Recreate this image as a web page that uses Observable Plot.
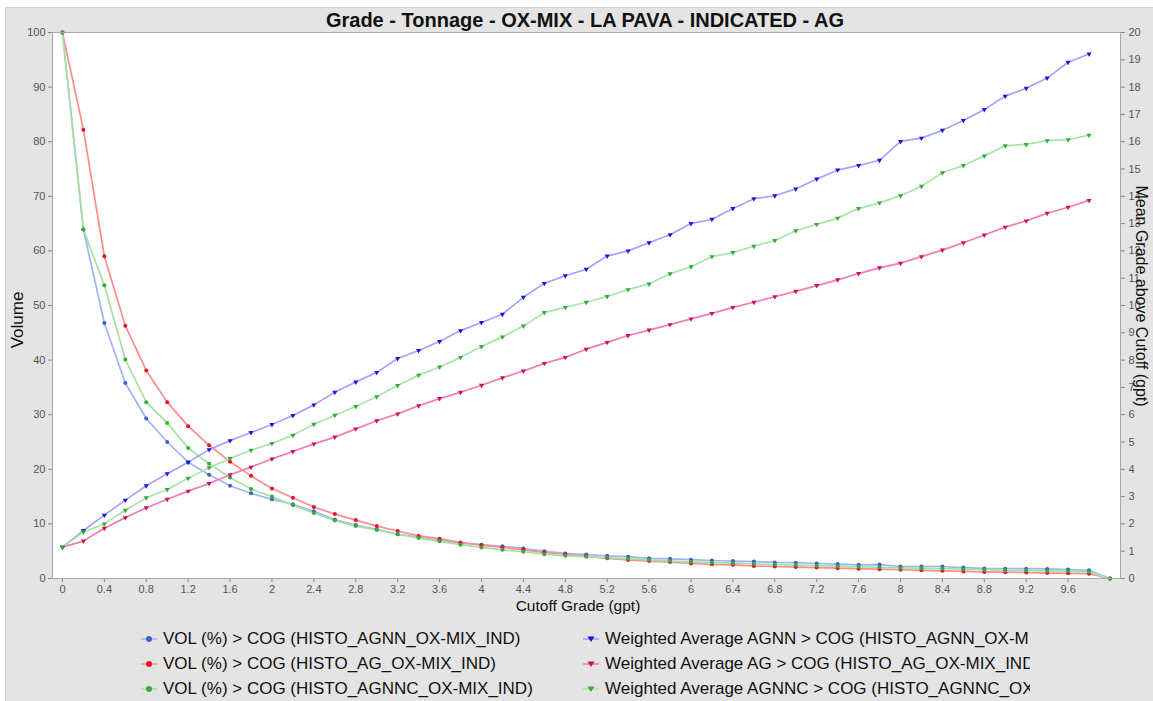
<!DOCTYPE html>
<html><head><meta charset="utf-8">
<script src="https://cdn.jsdelivr.net/npm/d3@7"></script>
<script src="https://cdn.jsdelivr.net/npm/@observablehq/plot@0.6"></script>
<style>
html,body{margin:0;padding:0;background:#fff;}
#wrap{position:relative;width:1153px;height:701px;overflow:hidden;font-family:"Liberation Sans",Arial,sans-serif;}
#bg{position:absolute;left:5px;top:7px;right:0;bottom:0;background:#e4e4e4;border-left:1px solid #d0d0d0;border-top:1px solid #d0d0d0;}
#title{position:absolute;left:585px;top:20px;transform:translate(-50%,-50%);white-space:nowrap;font-weight:bold;font-size:20px;color:#111;}
#chart{position:absolute;left:0;top:0;}
.lab{position:absolute;color:#111;white-space:nowrap;}
#ylab{left:18px;top:320px;font-size:17px;transform:translate(-50%,-50%) rotate(-90deg);}
#y2lab{left:1141px;top:296px;font-size:16px;transform:translate(-50%,-50%) rotate(90deg);}
#xlab{left:578px;top:606px;font-size:15.5px;transform:translate(-50%,-50%);}
.leg{position:absolute;font-size:17px;color:#111;white-space:nowrap;overflow:hidden;display:flex;align-items:center;height:22px;}
.leg svg{flex:none;margin-right:5px;}
</style></head>
<body><div id="wrap"><div id="bg"></div><div id="chart"></div>
<div id="title">Grade - Tonnage - OX-MIX - LA PAVA - INDICATED - AG</div>
<div class="lab" id="ylab">Volume</div>
<div class="lab" id="y2lab">Mean Grade above Cutoff (gpt)</div>
<div class="lab" id="xlab">Cutoff Grade (gpt)</div>
<div id="legend"></div>
</div>
<script>
// Cutoff grades (gpt)
const grades = [0,0.2,0.4,0.6,0.8,1.0,1.2,1.4,1.6,1.8,2.0,2.2,2.4,2.6,2.8,3.0,3.2,3.4,3.6,3.8,4.0,4.2,4.4,4.6,4.8,5.0,5.2,5.4,5.6,5.8,6.0,6.2,6.4,6.6,6.8,7.0,7.2,7.4,7.6,7.8,8.0,8.2,8.4,8.6,8.8,9.0,9.2,9.4,9.6,9.8,10.0];
// Volume % above cutoff (left axis)
const volAGNN  = [100,63.9,46.8,35.8,29.3,25.0,21.3,19.0,17.0,15.6,14.5,13.6,12.3,10.8,9.8,9.0,8.1,7.6,7.0,6.5,6.2,5.9,5.5,5.0,4.6,4.4,4.15,4.0,3.7,3.6,3.45,3.3,3.2,3.1,2.95,2.9,2.75,2.65,2.5,2.55,2.2,2.2,2.2,2.0,1.85,1.8,1.8,1.75,1.65,1.5,0];
const volAG    = [100,82.2,59.0,46.3,38.1,32.3,27.9,24.4,21.4,18.8,16.5,14.8,13.1,11.8,10.7,9.6,8.7,7.8,7.3,6.6,6.1,5.7,5.25,4.76,4.4,4.1,3.7,3.4,3.2,3.0,2.75,2.6,2.5,2.3,2.2,2.1,2.0,1.9,1.8,1.7,1.6,1.5,1.4,1.3,1.2,1.15,1.1,1.0,0.95,0.88,0];
const volAGNNC = [100,63.9,53.7,40.1,32.3,28.5,23.9,21.0,18.5,16.4,15.0,13.4,12.0,10.6,9.6,8.9,8.1,7.4,6.8,6.2,5.7,5.25,4.9,4.45,4.15,4.0,3.8,3.6,3.4,3.2,3.05,2.9,2.8,2.7,2.55,2.45,2.35,2.25,2.15,2.05,1.95,1.85,1.8,1.7,1.6,1.5,1.45,1.4,1.35,1.2,0];
// Weighted average grade above cutoff (right axis, gpt), cutoffs 0 .. 9.8
const wAGNN  = [1.15,1.76,2.32,2.87,3.40,3.84,4.26,4.72,5.05,5.35,5.64,5.97,6.36,6.82,7.2,7.55,8.06,8.35,8.68,9.08,9.38,9.68,10.3,10.81,11.09,11.33,11.81,12.0,12.3,12.59,13.0,13.16,13.55,13.91,14.02,14.27,14.63,14.96,15.13,15.32,16.01,16.13,16.42,16.78,17.18,17.67,17.96,18.33,18.91,19.21];
const wAG    = [1.15,1.37,1.84,2.23,2.59,2.9,3.2,3.48,3.8,4.08,4.38,4.65,4.93,5.18,5.48,5.78,6.03,6.33,6.59,6.82,7.08,7.35,7.6,7.88,8.1,8.4,8.65,8.9,9.1,9.3,9.51,9.71,9.93,10.12,10.32,10.52,10.73,10.94,11.17,11.38,11.55,11.79,12.03,12.3,12.58,12.87,13.1,13.38,13.6,13.85];
const wAGNNC = [1.15,1.70,2.0,2.5,2.96,3.26,3.67,4.06,4.4,4.7,4.95,5.25,5.65,5.98,6.3,6.66,7.07,7.45,7.75,8.1,8.5,8.85,9.25,9.74,9.93,10.12,10.33,10.58,10.79,11.16,11.42,11.79,11.94,12.17,12.38,12.74,12.97,13.2,13.55,13.76,14.02,14.37,14.86,15.13,15.48,15.85,15.90,16.04,16.07,16.24];
// Tick labels
const xTicks = [0,0.4,0.8,1.2,1.6,2,2.4,2.8,3.2,3.6,4,4.4,4.8,5.2,5.6,6,6.4,6.8,7.2,7.6,8,8.4,8.8,9.2,9.6];
const leftTicks = [0,10,20,30,40,50,60,70,80,90,100];
const rightTicks = [0,1,2,3,4,5,6,7,8,9,10,11,12,13,14,15,16,17,18,19,20];
const RIGHT_MAX = 20, LEFT_MAX = 100;

const series = [
  {name:"VOL (%) > COG (HISTO_AGNN_OX-MIX_IND)", vals: volAGNN, axis:"left", line:"#9fb4f2", mark:"#3a5fd0", sym:"circle"},
  {name:"VOL (%) > COG (HISTO_AG_OX-MIX_IND)", vals: volAG, axis:"left", line:"#ff8c8c", mark:"#e0142d", sym:"circle"},
  {name:"VOL (%) > COG (HISTO_AGNNC_OX-MIX_IND)", vals: volAGNNC, axis:"left", line:"#a3e2a3", mark:"#3aaa3a", sym:"circle"},
  {name:"Weighted Average AGNN > COG (HISTO_AGNN_OX-MIX_IND)", vals: wAGNN, axis:"right", line:"#a3a3ff", mark:"#1818d2", sym:"triangle"},
  {name:"Weighted Average AG > COG (HISTO_AG_OX-MIX_IND)", vals: wAG, axis:"right", line:"#f27db2", mark:"#c8105c", sym:"triangle"},
  {name:"Weighted Average AGNNC > COG (HISTO_AGNNC_OX-MIX_IND)", vals: wAGNNC, axis:"right", line:"#a8e6a8", mark:"#38a838", sym:"triangle"}
];
const k = LEFT_MAX / RIGHT_MAX;
const rows = [];
series.forEach((s, si) => s.vals.forEach((v, i) => rows.push({s: si, g: grades[i], y: s.axis === "left" ? v : v * k})));

const marks = [Plot.frame({fill: "white"})];
series.forEach((s, si) => {
  const d = rows.filter(r => r.s === si);
  marks.push(Plot.line(d, {x: "g", y: "y", stroke: s.line, strokeWidth: 1.7}));
});
series.forEach((s, si) => {
  const d = rows.filter(r => r.s === si);
  if (s.sym === "circle") marks.push(Plot.dot(d, {x: "g", y: "y", r: 2.0, fill: s.mark, stroke: "none"}));
  else marks.push(Plot.dot(d, {x: "g", y: "y", r: 1.9, symbol: "triangle", rotate: 180, fill: s.mark, stroke: "none"}));
});
marks.push(
  Plot.axisX({ticks: xTicks, tickFormat: d => String(+d.toFixed(1)), tickSize: 4, tickPadding: 3, label: null, stroke: "#888", fill: "#555"}),
  Plot.axisY({anchor: "left", ticks: leftTicks, tickSize: 4, tickPadding: 3, label: null, stroke: "#888", fill: "#555"}),
  Plot.axisY({anchor: "right", ticks: rightTicks.map(t => t * k), tickFormat: d => String(Math.round(d / k)), tickSize: 4, tickPadding: 4, label: null, stroke: "#888", fill: "#555"}),
  Plot.frame({stroke: "#a8a8a8"})
);

const chart = Plot.plot({
  width: 1153, height: 620,
  marginLeft: 52, marginRight: 33, marginTop: 32, marginBottom: 42,
  style: {background: "transparent", fontFamily: "'Liberation Sans', Arial, sans-serif", fontSize: "11px"},
  x: {domain: [-0.095, 10.1]},
  y: {domain: [0, LEFT_MAX]},
  marks
});
document.getElementById("chart").appendChild(chart);

// Legend
const legend = document.getElementById("legend");
const cols = [{x: 140, w: 440}, {x: 582, w: 448}];
const rowY = [639, 664, 689];
series.forEach((s, si) => {
  const col = cols[si < 3 ? 0 : 1];
  const div = document.createElement("div");
  div.className = "leg";
  div.style.left = col.x + "px";
  div.style.top = (rowY[si % 3] - 11) + "px";
  div.style.width = col.w + "px";
  const ns = "http://www.w3.org/2000/svg";
  const svg = document.createElementNS(ns, "svg");
  svg.setAttribute("width", 18); svg.setAttribute("height", 12);
  const ln = document.createElementNS(ns, "line");
  ln.setAttribute("x1", 1); ln.setAttribute("x2", 17); ln.setAttribute("y1", 6); ln.setAttribute("y2", 6);
  ln.setAttribute("stroke", s.line); ln.setAttribute("stroke-width", 1.6);
  svg.appendChild(ln);
  if (s.sym === "circle") {
    const c = document.createElementNS(ns, "circle");
    c.setAttribute("cx", 9); c.setAttribute("cy", 6); c.setAttribute("r", 3); c.setAttribute("fill", s.mark);
    svg.appendChild(c);
  } else {
    const p = document.createElementNS(ns, "path");
    p.setAttribute("d", "M5.5,3.5 L12.5,3.5 L9,9 Z"); p.setAttribute("fill", s.mark);
    svg.appendChild(p);
  }
  div.appendChild(svg);
  const t = document.createElement("span");
  t.textContent = s.name;
  div.appendChild(t);
  legend.appendChild(div);
});
</script>
</body></html>
